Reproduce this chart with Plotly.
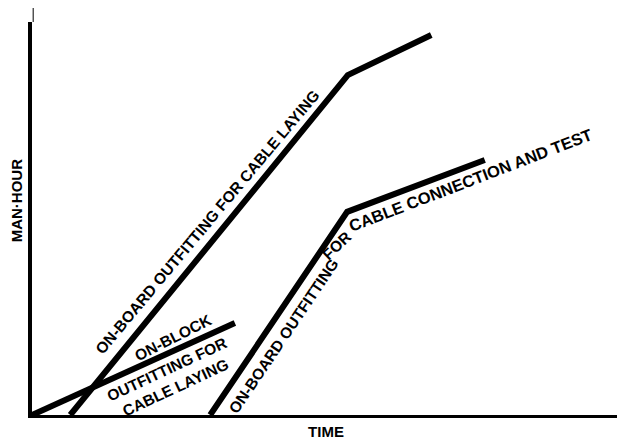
import plotly.graph_objects as go

# time / man-hour in arbitrary units (0-100 on each axis)
laying_x = [6.5, 53.7, 67.9]
laying_y = [0, 86.5, 96.7]

block_x = [0, 34.5]
block_y = [0, 23.4]

connect_x = [30.3, 53.6, 77.0]
connect_y = [0, 51.7, 64.9]

FONT = dict(family="Liberation Sans, Arial", size=15.5, color="black", weight="bold")
TITLE_FONT = dict(family="Liberation Sans, Arial", size=15, color="black", weight="bold")

fig = go.Figure()
for xs, ys in [(laying_x, laying_y), (block_x, block_y), (connect_x, connect_y)]:
    fig.add_trace(
        go.Scatter(
            x=xs, y=ys, mode="lines",
            line=dict(color="black", width=6),
            hoverinfo="skip", showlegend=False, cliponaxis=False,
        )
    )

# the connection label bends round the kink, so it is split in three
labels = [
    ("ON-BOARD OUTFITTING FOR CABLE LAYING", 29.9, 49.2, -50, 15.5),
    ("ON-BLOCK", 24.0, 19.8, -27, 15.5),
    ("OUTFITTING FOR<br>CABLE LAYING", 23.6, 9.4, -25, 15.5),
    ("ON-BOARD OUTFITTING", 42.7, 20.1, -56, 15.5),
    ("FOR", 51.8, 43.2, -44, 15.5),
    ("CABLE CONNECTION AND TEST", 74.6, 59.8, -21, 16.5),
]
for text, x, y, ang, size in labels:
    fig.add_annotation(
        x=x, y=y, text=text, textangle=ang, showarrow=False,
        font={**FONT, "size": size}, align="center",
    )

# y title sits above the middle of the axis, so it is an annotation
fig.add_annotation(x=0, y=0.545, xref="paper", yref="paper", text="MAN·HOUR",
                   xanchor="right", xshift=-5, textangle=-90, showarrow=False,
                   font=TITLE_FONT)

# thin tip above the y axis
fig.add_shape(
    type="line", xref="paper", yref="paper",
    x0=0.002, x1=0.002, y0=1.0, y1=1.04,
    line=dict(color="black", width=1),
)

fig.update_layout(
    width=617, height=436,
    margin=dict(l=24, r=5, t=14, b=29),
    plot_bgcolor="white", paper_bgcolor="white",
    xaxis=dict(
        range=[0, 100], showgrid=False, zeroline=False, showticklabels=False,
        ticks="", showline=True, linecolor="black", linewidth=3, automargin=False,
        title=dict(text="TIME", font=TITLE_FONT, standoff=10),
    ),
    yaxis=dict(
        range=[0, 100], showgrid=False, zeroline=False, showticklabels=False,
        ticks="", showline=True, linecolor="black", linewidth=4, automargin=False,
    ),
)

fig.write_html("out.html")
